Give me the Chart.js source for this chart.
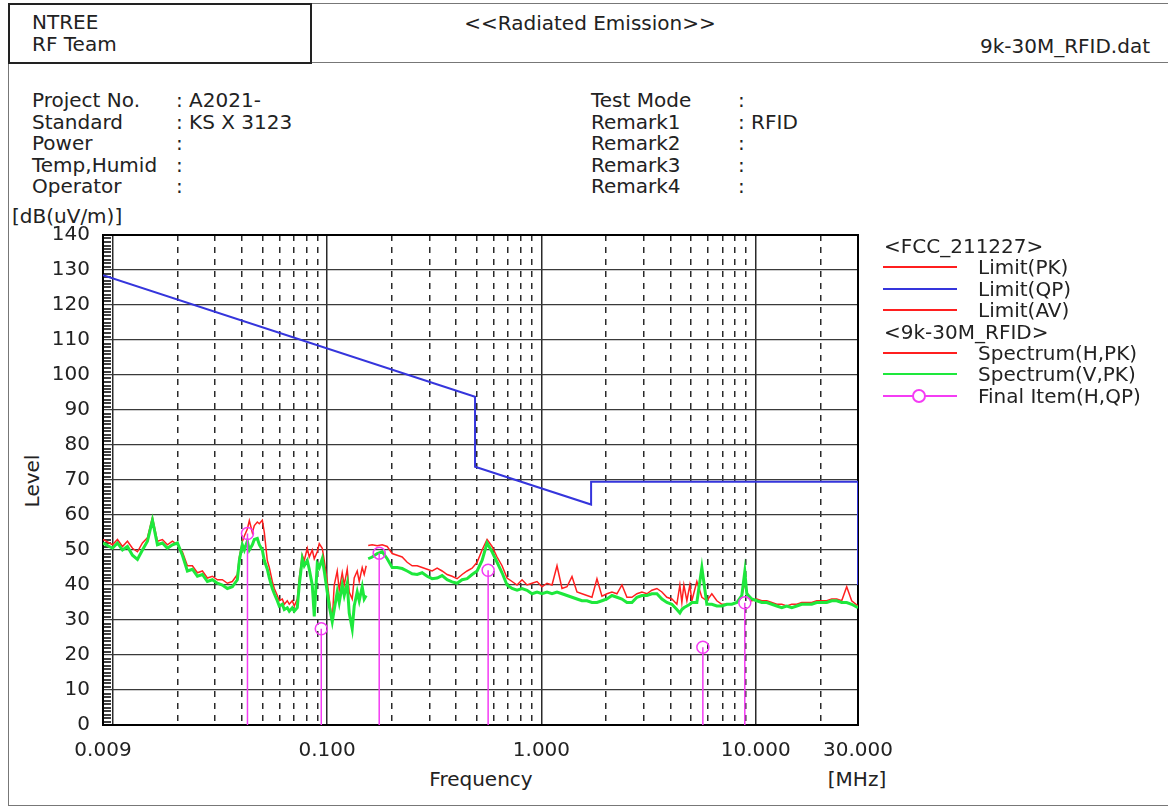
<!DOCTYPE html>
<html>
<head>
<meta charset="utf-8">
<script src="https://cdn.jsdelivr.net/npm/chart.js@4.4.0/dist/chart.umd.min.js"></script>
<style>
  html, body { margin: 0; padding: 0; background: #fff; }
  body {
    width: 1168px; height: 810px; position: relative; overflow: hidden;
    font-family: "DejaVu Sans", sans-serif; font-size: 20px; color: #222;
  }
  .abs { position: absolute; white-space: nowrap; }
  #frame { left: 8px; top: 3px; width: 1180px; height: 803px; border: 1.5px solid #777; border-right: none; box-sizing: border-box; }
  #hline { left: 8px; top: 62px; width: 1170px; height: 0; border-top: 1.5px solid #777; }
  #teambox { left: 8px; top: 3px; width: 304px; height: 61px; border: 2px solid #222; box-sizing: border-box; }
  #team { left: 32px; top: 11px; line-height: 22px; }
  #title { left: 590px; top: 12px; line-height: 22px; transform: translateX(-50%); }
  #file { right: 18px; top: 35px; line-height: 22px; }
  .info { top: 90px; line-height: 21.5px; }
  #unit { left: 12px; top: 205px; line-height: 22px; }
  #ylab { left: 32px; top: 481px; transform: translate(-50%, -50%) rotate(-90deg); }
  #xlab { left: 481px; top: 768px; line-height: 22px; transform: translateX(-50%); }
  #mhz { left: 857px; top: 768px; line-height: 22px; transform: translateX(-50%); }
  #chart { position: absolute; left: 0; top: 215px; }
  #legend { left: 884px; top: 235px; }
  #legend .row { position: absolute; left: 0; height: 22px; line-height: 22px; width: 280px; }
  #legend .sw { position: absolute; left: -1px; top: 10px; width: 74px; height: 2px; }
  #legend .dot { position: absolute; left: 29px; top: -6px; width: 10px; height: 10px; border: 2px solid; border-radius: 50%; background: #fff; }
  #legend .txt { position: absolute; left: 94px; }
</style>
</head>
<body>
<div class="abs" id="frame"></div>
<div class="abs" id="hline"></div>
<div class="abs" id="teambox"></div>
<div class="abs" id="team">NTREE<br>RF Team</div>
<div class="abs" id="title">&lt;&lt;Radiated Emission&gt;&gt;</div>
<div class="abs" id="file">9k-30M_RFID.dat</div>

<div class="abs info" style="left:32px">Project No.<br>Standard<br>Power<br>Temp,Humid<br>Operator</div>
<div class="abs info" style="left:176px">: A2021-<br>: KS X 3123<br>:<br>:<br>:</div>
<div class="abs info" style="left:591px">Test Mode<br>Remark1<br>Remark2<br>Remark3<br>Remark4</div>
<div class="abs info" style="left:738px">:<br>: RFID<br>:<br>:<br>:</div>

<div class="abs" id="unit">[dB(uV/m)]</div>
<div class="abs" id="ylab">Level</div>
<div class="abs" id="xlab">Frequency</div>
<div class="abs" id="mhz">[MHz]</div>

<canvas id="chart" width="900" height="590"></canvas>
<div class="abs" id="legend"></div>

<script>
// ---------- data ----------

// sweep frequencies (MHz), shared by both spectrum traces; null level = gap
const freqMHz = [
  0.009, 0.009965, 0.010514, 0.011094, 0.011705, 0.012350, 0.013031, 0.013750, 0.014508, 0.015308,
  0.016152, 0.017043, 0.017982, 0.018974, 0.020019, 0.021123, 0.022287, 0.023516, 0.024812, 0.026180,
  0.027623, 0.029146, 0.030753, 0.032449, 0.034237, 0.036125, 0.038116, 0.038943, 0.040218, 0.041091,
  0.042434, 0.043355, 0.044774, 0.045746, 0.047242, 0.048267, 0.049847, 0.050929, 0.052594, 0.053735,
  0.055494, 0.056698, 0.058553, 0.059824, 0.061782, 0.063123, 0.065187, 0.066602, 0.068782, 0.070273,
  0.072572, 0.074147, 0.076574, 0.078236, 0.080794, 0.082547, 0.085249, 0.087099, 0.089948, 0.091900,
  0.094907, 0.096966, 0.10014, 0.10231, 0.10566, 0.10795, 0.11148, 0.11390, 0.11763, 0.12018,
  0.12411, 0.12680, 0.13095, 0.13379, 0.13818, 0.14118, 0.14580, 0.14896, 0.15219, 0.1530,
  0.15549, 0.16231, 0.17126, 0.18070, 0.19066, 0.20117, 0.21226, 0.22396, 0.23631, 0.24934,
  0.26309, 0.27759, 0.29289, 0.30904, 0.32608, 0.34405, 0.36302, 0.38303, 0.40415, 0.42643,
  0.44994, 0.47475, 0.50091, 0.52852, 0.55766, 0.58840, 0.62084, 0.65506, 0.69118, 0.72929,
  0.76949, 0.81192, 0.85667, 0.90390, 0.95373, 1.0063, 1.0618, 1.1203, 1.1821, 1.2473,
  1.3160, 1.3886, 1.4651, 1.5459, 1.6311, 1.7210, 1.8159, 1.9160, 2.0216, 2.1331,
  2.2507, 2.3748, 2.5057, 2.6438, 2.7896, 2.9434, 3.1056, 3.2768, 3.4575, 3.6481,
  3.8492, 4.0614, 4.2853, 4.4254, 4.5215, 4.6196, 4.7708, 4.9268, 5.0338, 5.3113,
  5.6041, 5.9130, 6.2390, 6.5829, 6.9457, 7.3287, 7.7328, 8.1590, 8.6089, 8.8905,
  9.0834, 9.5840, 10.112, 10.670, 11.258, 11.878, 12.534, 13.225, 13.954, 14.723,
  15.535, 16.391, 17.295, 18.248, 19.254, 20.316, 21.436, 22.617, 23.864, 25.180,
  26.568, 28.032, 30.0
];

// Spectrum(H,PK) dB(uV/m)
const levelH = [
  53.0, 51.5, 53.0, 51.0, 52.5, 50.5, 49.5, 52.0, 53.5, 59.3,
  52.5, 53.0, 51.5, 52.5, 51.5, 49.5, 45.5, 45.5, 43.5, 44.0,
  42.0, 42.5, 41.5, 41.5, 40.5, 41.0, 43.0, 48.0, 52.4, 54.0,
  56.0, 58.4, 55.0, 57.0, 58.0, 57.5, 58.5, 55.0, 47.0, 45.0,
  41.0, 39.0, 37.0, 35.5, 36.0, 34.5, 35.5, 34.5, 35.5, 34.0,
  36.0, 42.0, 48.5, 47.0, 50.5, 48.0, 50.0, 47.5, 49.5, 51.8,
  50.5, 47.0, 41.0, 36.0, 30.0, 40.0, 44.0, 38.5, 43.5, 40.0,
  44.5, 38.0, 36.0, 42.0, 44.0, 41.0, 45.0, 43.0, 45.5, null,
  51.3, 51.5, 51.2, 51.5, 51.0, 49.0, 48.5, 48.0, 46.5, 45.5,
  45.5, 45.0, 44.5, 44.0, 44.8, 44.0, 43.0, 42.5, 41.8, 43.0,
  44.0, 44.8, 46.5, 50.0, 53.0, 51.0, 48.0, 45.5, 42.0, 41.0,
  40.0, 41.5, 40.0, 40.5, 41.0, 39.5, 40.5, 40.0, 45.5, 39.0,
  39.5, 42.4, 38.0, 37.5, 37.0, 36.5, 41.8, 36.8, 37.5, 38.0,
  37.5, 40.0, 36.5, 36.5, 37.5, 38.0, 37.5, 38.5, 39.0, 38.0,
  36.5, 36.0, 34.5, 40.0, 35.0, 40.0, 35.5, 40.0, 35.5, 41.0,
  36.5, 35.5, 37.5, 35.5, 34.5, 34.5, 34.5, 35.0, 37.0, 40.5,
  38.0, 35.5, 36.0, 35.5, 35.5, 35.0, 34.5, 34.5, 34.0, 34.5,
  34.5, 35.0, 35.0, 35.0, 35.5, 35.5, 35.5, 36.0, 36.0, 35.5,
  39.5, 35.5, 34.0
];

// Spectrum(V,PK) dB(uV/m)
const levelV = [
  52.0, 50.5, 52.0, 50.0, 51.0, 48.5, 47.3, 50.0, 52.5, 58.5,
  51.5, 52.0, 50.5, 51.5, 52.0, 48.5, 44.0, 44.5, 42.5, 43.0,
  41.0, 41.5, 40.5, 40.0, 39.0, 39.5, 41.5, 47.0, 51.5, 50.0,
  52.5, 50.0, 51.5, 53.0, 53.3, 51.5, 50.0, 47.0, 44.5, 42.0,
  39.0, 37.5, 35.5, 34.0, 34.5, 33.0, 33.5, 32.5, 33.5, 32.5,
  33.5, 40.0, 47.5, 45.5, 47.0, 44.5, 40.0, 31.0, 46.0, 45.0,
  47.5, 44.0, 38.0, 34.0, 29.5, 33.0, 38.0, 35.0, 40.0, 37.0,
  40.5, 32.0, 27.5, 34.0, 38.0, 35.5, 39.5, 36.0, 37.0, null,
  47.5, 48.0, 49.0, 49.5, 47.5, 45.0, 45.0, 44.7, 44.0, 43.2,
  43.0, 43.5, 42.5, 41.8, 42.0, 42.7, 41.5, 40.9, 40.5, 41.5,
  41.8, 43.0, 44.0, 47.0, 52.0, 49.5, 46.5, 43.5, 40.0, 39.0,
  38.5, 39.0, 38.5, 37.5, 38.0, 37.5, 38.0, 37.5, 38.0, 37.5,
  37.0, 36.5, 36.0, 35.5, 35.5, 35.0, 35.0, 35.5, 36.0, 37.0,
  36.5, 36.0, 35.0, 35.0, 36.5, 37.0, 37.0, 37.5, 37.5, 36.0,
  35.0, 34.5, 33.0, 32.0, 33.0, 33.5, 34.0, 34.5, 35.0, 35.0,
  45.0, 34.5, 34.5, 34.0, 34.0, 34.5, 34.5, 35.0, 37.0, 43.8,
  37.5, 36.0, 35.5, 35.0, 35.0, 34.5, 34.0, 33.5, 34.0, 33.5,
  34.0, 34.5, 34.5, 34.5, 35.0, 35.0, 35.0, 35.5, 35.5, 35.0,
  35.0, 34.5, 33.5
];

// Limit(QP) corner points
const limitQPFreq  = [0.009, 0.49, 0.49, 1.705, 1.705, 30, 30];
const limitQPLevel = [128.5, 93.8, 73.8, 63.0, 69.5, 69.5, 40.0];

// Final Item(H,QP)
const finalFreq  = [0.0425, 0.0939, 0.175, 0.564, 5.665, 8.89];
const finalLevel = [54.7, 27.5, 49.1, 44.2, 22.2, 34.9];

// axis ticks
const xGridValues = [
  0.009, 0.01, 0.02, 0.03, 0.04, 0.05, 0.06, 0.07, 0.08, 0.09,
  0.1, 0.2, 0.3, 0.4, 0.5, 0.6, 0.7, 0.8, 0.9,
  1, 2, 3, 4, 5, 6, 7, 8, 9,
  10, 20, 30
];
const xLabelValues = [0.009, 0.1, 1, 10, 30];
const xLabelText = ["0.009", "0.100", "1.000", "10.000", "30.000"];
const xSolidValues = [0.009, 0.01, 0.1, 1, 10, 30];

// ---------- colours ----------
const RED = "#ff1f1f";
const GREEN = "#1ee83c";
const BLUE = "#3535dc";
const MAGENTA = "#f43cf4";

// ---------- legend (html, right side) ----------
const legendRows = [
  { head: "<FCC_211227>" },
  { label: "Limit(PK)", color: RED },
  { label: "Limit(QP)", color: BLUE },
  { label: "Limit(AV)", color: RED },
  { head: "<9k-30M_RFID>" },
  { label: "Spectrum(H,PK)", color: RED },
  { label: "Spectrum(V,PK)", color: GREEN },
  { label: "Final Item(H,QP)", color: MAGENTA, dot: true },
];

const legendEl = document.getElementById("legend");
legendRows.forEach((r, i) => {
  const row = document.createElement("div");
  row.className = "row";
  row.style.top = Math.round(i * 21.4) + "px";
  if (r.head) {
    row.textContent = r.head;
  } else {
    row.innerHTML =
      `<div class="sw" style="background:${r.color}">` +
      (r.dot ? `<div class="dot" style="border-color:${r.color}"></div>` : "") +
      `</div><span class="txt"></span>`;
    row.querySelector(".txt").textContent = r.label;
  }
  legendEl.appendChild(row);
});

// ---------- datasets ----------
const toPoints = (xs, ys) => xs.map((x, i) => ({ x, y: ys[i] }));

const stemPoints = finalFreq.flatMap((f, i) => [
  { x: f, y: 0 },
  { x: f, y: finalLevel[i] },
  { x: f, y: null },
]);

// frame + ruler ticks on the left edge
const framePlugin = {
  id: "frameRuler",
  beforeDatasetsDraw(chart) {
    const { ctx, chartArea: a, scales } = chart;
    ctx.save();
    ctx.strokeStyle = "#000";
    ctx.lineWidth = 1.5;
    for (let v = 1; v < 140; v++) {
      if (v % 10 === 0) continue;
      const y = Math.round(scales.y.getPixelForValue(v));
      ctx.beginPath();
      ctx.moveTo(a.left, y);
      ctx.lineTo(a.left + 8, y);
      ctx.stroke();
    }
    ctx.lineWidth = 2;
    ctx.strokeRect(a.left, a.top, a.right - a.left, a.bottom - a.top);
    ctx.restore();
  },
};

const FONT = { family: "'DejaVu Sans', sans-serif", size: 20 };
const isSolid = (v) => xSolidValues.some((s) => Math.abs(s - v) < 1e-9);

new Chart(document.getElementById("chart"), {
  type: "scatter",
  data: {
    datasets: [
      {
        label: "Final Item(H,QP)",
        data: stemPoints,
        showLine: true,
        borderColor: MAGENTA,
        borderWidth: 1.5,
        pointRadius: (c) => (c.raw && c.raw.y > 0 ? 6 : 0),
        pointBorderColor: MAGENTA,
        pointBorderWidth: 1.5,
        pointBackgroundColor: "rgba(0,0,0,0)",
        order: 0,
      },
      {
        label: "Spectrum(V,PK)",
        data: toPoints(freqMHz, levelV),
        showLine: true,
        borderColor: GREEN,
        borderWidth: 3,
        pointRadius: 0,
        order: 1,
      },
      {
        label: "Spectrum(H,PK)",
        data: toPoints(freqMHz, levelH),
        showLine: true,
        borderColor: RED,
        borderWidth: 1.5,
        pointRadius: 0,
        order: 2,
      },
      {
        label: "Limit(QP)",
        data: toPoints(limitQPFreq, limitQPLevel),
        showLine: true,
        borderColor: BLUE,
        borderWidth: 2,
        pointRadius: 0,
        order: 3,
      },
      { label: "Limit(PK)", data: [], showLine: true, borderColor: RED, pointRadius: 0 },
      { label: "Limit(AV)", data: [], showLine: true, borderColor: RED, pointRadius: 0 },
    ],
  },
  options: {
    responsive: false,
    animation: false,
    events: [],
    layout: { padding: { left: 8, right: 42, top: 20, bottom: 35 } },
    plugins: { legend: { display: false }, tooltip: { enabled: false } },
    scales: {
      x: {
        type: "logarithmic",
        min: 0.009,
        max: 30,
        afterBuildTicks: (scale) => {
          scale.ticks = xGridValues.map((v) => ({ value: v }));
        },
        afterFit: (scale) => {
          scale.height = 45;
          scale.paddingLeft = 0;
          scale.paddingRight = 0;
        },
        ticks: {
          autoSkip: false,
          maxRotation: 0,
          minRotation: 0,
          padding: 14,
          color: "#222",
          font: FONT,
          callback: (value) => {
            const i = xLabelValues.findIndex((v) => Math.abs(v - value) < 1e-9);
            return i >= 0 ? xLabelText[i] : "";
          },
        },
        grid: { drawTicks: false, color: "#2a2a2a", lineWidth: 1.5 },
        border: {
          display: true,
          color: "#111",
          width: 2,
          dash: (c) => (c.tick && isSolid(c.tick.value) ? [] : [6, 6]),
        },
      },
      y: {
        min: 0,
        max: 140,
        afterFit: (scale) => {
          scale.width = 95;
          scale.paddingTop = 0;
          scale.paddingBottom = 0;
        },
        ticks: { stepSize: 10, padding: 13, color: "#222", font: FONT },
        grid: { drawTicks: false, color: "#3a3a3a", lineWidth: 1.2 },
        border: { display: true, color: "#111", width: 2 },
      },
    },
  },
  plugins: [framePlugin],
});
</script>
</body>
</html>
